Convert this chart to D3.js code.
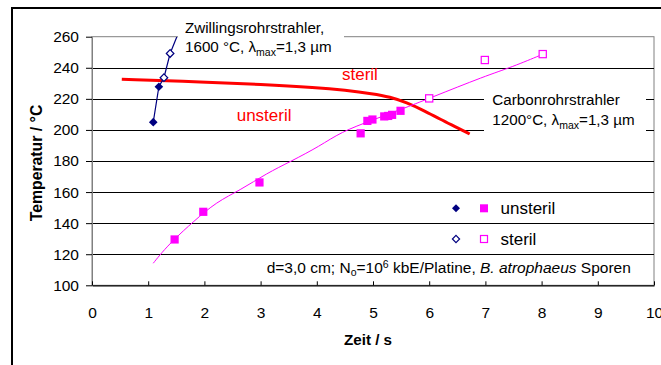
<!DOCTYPE html>
<html>
<head>
<meta charset="utf-8">
<script src="https://cdn.jsdelivr.net/npm/d3@7"></script>
<style>
  html, body { margin: 0; padding: 0; background: #fff; }
  svg { display: block; font-family: "Liberation Sans", Arial, sans-serif; }
</style>
</head>
<body>
<svg id="chart" width="661" height="365"></svg>
<script>
// Axis ticks
const timeTicks = [0, 1, 2, 3, 4, 5, 6, 7, 8, 9, 10];
const tempTicks = [100, 120, 140, 160, 180, 200, 220, 240, 260];

// Twin-tube emitter (1600 °C): measured points [time s, temperature °C]
const twinUnsterile = [[1.09, 205], [1.19, 227.8]];
const twinSterile = [[1.28, 233.6], [1.39, 249.2]];
const twinTrend = [[1.09, 205], [1.19, 227.8], [1.28, 233.6], [1.39, 249.2], [1.51, 260]];

// Carbon emitter (1200 °C)
const carbonUnsterile = [[1.47, 129.5], [1.98, 147.3], [2.98, 166.2], [4.78, 197.8],
  [4.9, 205.8], [4.99, 206.7], [5.2, 208.7], [5.27, 209], [5.34, 209.7], [5.49, 212.3]];
const carbonSterile = [[6.0, 220.3], [6.99, 245], [8.02, 248.8]];
const carbonTrend = [[1.09, 114.2], [1.24, 121], [1.45, 129.2], [1.8, 140.9], [2.22, 153.8],
  [2.64, 161.3], [3.11, 172.1], [3.53, 179.6], [4.06, 189.7], [4.42, 198.5], [5.0, 206.5],
  [5.5, 213.2], [6.0, 220.3], [7.0, 234.8], [7.47, 240.4], [8.04, 249]];

// Boundary between sterile and non-sterile outcome
const sterileBoundary = [[0.53, 232.6], [2, 230.8], [3, 229.4], [4, 227.3], [4.5, 225.6],
  [5, 223.3], [5.3, 221.3], [5.6, 217.6], [5.9, 212.6], [6.2, 206.8], [6.5, 201.5], [6.72, 197.4]];

const svg = d3.select("#chart");
const plot = { left: 92, right: 654, top: 36.7, bottom: 285.3 };

const x = d3.scaleLinear().domain([0, 10]).range([plot.left, plot.right]);
const y = d3.scaleLinear().domain([100, 260]).range([plot.bottom, plot.top]);

// Outer chart frame
svg.append("rect")
  .attr("x", 12).attr("y", 8).attr("width", 700).attr("height", 400)
  .attr("fill", "none").attr("stroke", "#000").attr("stroke-width", 2);

// Plot area border
svg.append("rect")
  .attr("x", plot.left).attr("y", plot.top)
  .attr("width", plot.right - plot.left).attr("height", plot.bottom - plot.top)
  .attr("fill", "#fff").attr("stroke", "#808080").attr("stroke-width", 1);

// Horizontal gridlines
svg.append("g").selectAll("line")
  .data(tempTicks.filter(d => d > 100 && d < 260))
  .join("line")
  .attr("x1", plot.left).attr("x2", plot.right)
  .attr("y1", d => Math.round(y(d)) + 0.5).attr("y2", d => Math.round(y(d)) + 0.5)
  .attr("stroke", "#000").attr("stroke-width", 1);

// Y axis
const yAxis = svg.append("g")
  .attr("transform", `translate(${plot.left},0)`)
  .call(d3.axisLeft(y).tickValues(tempTicks).tickSize(6).tickPadding(7).tickSizeOuter(0));
yAxis.select(".domain").attr("stroke", "#808080");
yAxis.selectAll(".tick line").attr("stroke", "#000");
yAxis.selectAll(".tick text").attr("font-size", 15.5).attr("fill", "#000")
  .attr("font-family", "Liberation Sans, Arial, sans-serif");

// X axis (ticks point inward)
const xAxis = svg.append("g")
  .attr("transform", `translate(0,${plot.bottom})`)
  .call(d3.axisBottom(x).tickValues(timeTicks).tickSize(-4).tickPadding(0).tickSizeOuter(0));
xAxis.select(".domain").attr("stroke", "#000").attr("stroke-width", 1.3);
xAxis.selectAll(".tick line").attr("stroke", "#000");
xAxis.selectAll(".tick text").attr("font-size", 15.5).attr("fill", "#000")
  .attr("dy", null).attr("y", 33)
  .attr("font-family", "Liberation Sans, Arial, sans-serif");

// Axis titles
svg.append("text")
  .attr("x", 368).attr("y", 345)
  .attr("text-anchor", "middle").attr("font-size", 15.2).attr("font-weight", "bold")
  .text("Zeit / s");
svg.append("text")
  .attr("transform", "translate(41.5,163) rotate(-90)")
  .attr("text-anchor", "middle").attr("font-size", 15.8).attr("font-weight", "bold")
  .text("Temperatur / °C");

// Clip region for series
svg.append("clipPath").attr("id", "plot-clip")
  .append("rect")
  .attr("x", plot.left).attr("y", plot.top)
  .attr("width", plot.right - plot.left).attr("height", plot.bottom - plot.top);

const series = svg.append("g").attr("clip-path", "url(#plot-clip)");
const line = d3.line().x(d => x(d[0])).y(d => y(d[1]));
const smooth = d3.line().x(d => x(d[0])).y(d => y(d[1])).curve(d3.curveBasis);

// Sterile boundary
series.append("path").datum(sterileBoundary)
  .attr("d", smooth).attr("fill", "none").attr("stroke", "#ff0000").attr("stroke-width", 3);

// Trend lines
series.append("path").datum(carbonTrend)
  .attr("d", smooth).attr("fill", "none").attr("stroke", "#ff00ff").attr("stroke-width", 1);
series.append("path").datum(twinTrend)
  .attr("d", line).attr("fill", "none").attr("stroke", "#000080").attr("stroke-width", 1.2);

const navy = "#000080", magenta = "#ff00ff";
const diamond = s => `M0,${-s}L${s},0L0,${s}L${-s},0Z`;

function diamonds(g, data, filled) {
  g.append("g").selectAll("path").data(data).join("path")
    .attr("transform", d => `translate(${x(d[0])},${y(d[1])})`)
    .attr("d", filled ? diamond(4.3) : diamond(3.8))
    .attr("fill", filled ? navy : "#fff")
    .attr("stroke", navy).attr("stroke-width", filled ? 0 : 1.2);
}
function squares(g, data, filled) {
  const s = filled ? 8.2 : 7.2;
  g.append("g").selectAll("rect").data(data).join("rect")
    .attr("x", d => x(d[0]) - s / 2).attr("y", d => y(d[1]) - s / 2)
    .attr("width", s).attr("height", s)
    .attr("fill", filled ? magenta : "#fff")
    .attr("stroke", magenta).attr("stroke-width", filled ? 0 : 1.2);
}

squares(series, carbonUnsterile, true);
squares(series, carbonSterile, false);
diamonds(series, twinUnsterile, true);
diamonds(series, twinSterile, false);

// Region labels
svg.append("text").attr("x", 342).attr("y", 79.5)
  .attr("font-size", 17).attr("fill", "#ff0000").text("steril");
svg.append("text").attr("x", 236.7).attr("y", 120.7)
  .attr("font-size", 17).attr("fill", "#ff0000").text("unsteril");

// Emitter annotation boxes
function emitterBox(bx, by, bw, bh, tx, ty1, ty2, line1, line2a) {
  svg.append("rect").attr("x", bx).attr("y", by).attr("width", bw).attr("height", bh).attr("fill", "#fff");
  svg.append("text").attr("x", tx).attr("y", ty1).attr("font-size", 15.2).text(line1);
  const t = svg.append("text").attr("x", tx).attr("y", ty2).attr("font-size", 15.2);
  t.append("tspan").text(line2a + "λ");
  t.append("tspan").attr("font-size", 10.5).attr("dy", 3.5).text("max");
  t.append("tspan").attr("dy", -3.5).text("=1,3 µm");
}
emitterBox(178, 15, 166, 42, 185, 33.3, 52, "Zwillingsrohrstrahler,", "1600 °C, ");
emitterBox(484, 88, 162, 45, 492.3, 105, 125, "Carbonrohrstrahler", "1200°C, ");

// Legend
const legend = svg.append("g");
const legendRows = [
  { label: "unsteril", filled: true, yPos: 208.3 },
  { label: "steril", filled: false, yPos: 239 }
];
legendRows.forEach(r => {
  legend.append("path")
    .attr("transform", `translate(456,${r.yPos})`)
    .attr("d", r.filled ? diamond(4) : diamond(3.6))
    .attr("fill", r.filled ? navy : "#fff")
    .attr("stroke", navy).attr("stroke-width", r.filled ? 0 : 1.2);
  const s = r.filled ? 8 : 7;
  legend.append("rect")
    .attr("x", 484 - s / 2).attr("y", r.yPos - s / 2).attr("width", s).attr("height", s)
    .attr("fill", r.filled ? magenta : "#fff")
    .attr("stroke", magenta).attr("stroke-width", r.filled ? 0 : 1.2);
  legend.append("text")
    .attr("x", 500.5).attr("y", r.yPos + 6)
    .attr("font-size", 17).text(r.label);
});

// Experimental conditions
const cond = svg.append("text").attr("x", 266.7).attr("y", 273.3).attr("font-size", 15.5);
cond.append("tspan").text("d=3,0 cm; N");
cond.append("tspan").attr("font-size", 10.5).attr("dy", 3).text("o");
cond.append("tspan").attr("dy", -3).text("=10");
cond.append("tspan").attr("font-size", 10.5).attr("dy", -5.5).text("6");
cond.append("tspan").attr("dy", 5.5).text(" kbE/Platine, ");
cond.append("tspan").attr("font-style", "italic").text("B. atrophaeus");
cond.append("tspan").text(" Sporen");
</script>
</body>
</html>
